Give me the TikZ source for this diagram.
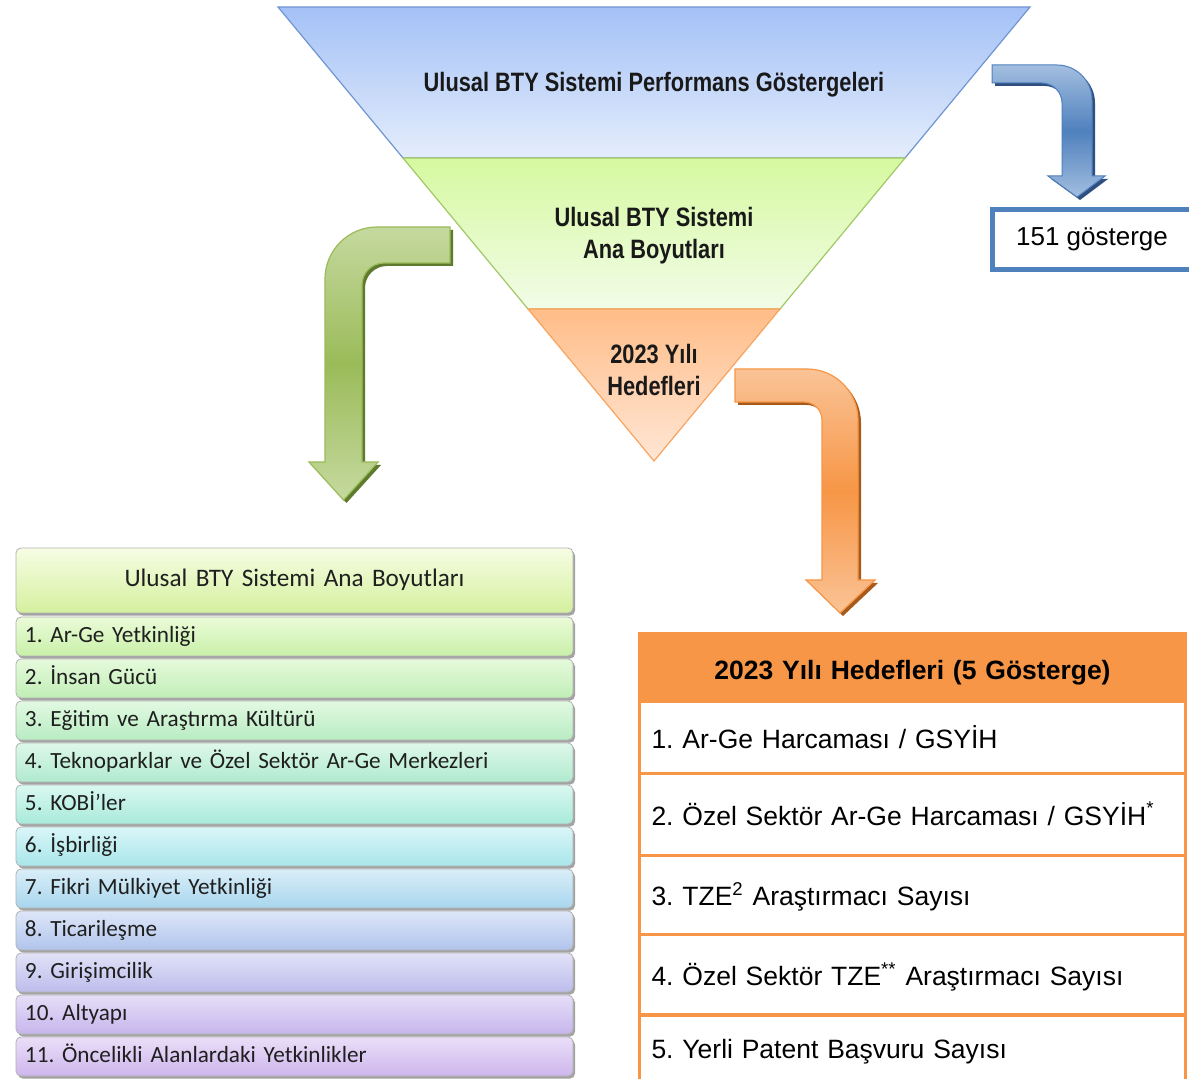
\documentclass[tikz,border=0pt]{standalone}
\usepackage{fontspec}
\setmainfont{Liberation Sans}
\newfontfamily\narrowfont[FakeStretch=0.82]{Liberation Sans}
\newfontfamily\rowfont[WordSpace=0.85]{Carlito}
\usetikzlibrary{shadows}
\definecolor{funBT}{HTML}{A4C1F6}
\definecolor{funBB}{HTML}{E4EDFC}
\definecolor{funBE}{HTML}{6F95D2}
\definecolor{funGT}{HTML}{D6F9A0}
\definecolor{funGB}{HTML}{F2FCE8}
\definecolor{funGE}{HTML}{A2C866}
\definecolor{funOT}{HTML}{FFBD88}
\definecolor{funOB}{HTML}{FFE6D5}
\definecolor{funOE}{HTML}{F8A35E}
\definecolor{arBL}{HTML}{A3BEE0}
\definecolor{arBD}{HTML}{4F81BD}
\definecolor{arBS}{HTML}{2E4F80}
\definecolor{arGL}{HTML}{C5D99F}
\definecolor{arGD}{HTML}{9BBB59}
\definecolor{arGS}{HTML}{5E7A2E}
\definecolor{arOL}{HTML}{FAC396}
\definecolor{arOD}{HTML}{F79646}
\definecolor{arOS}{HTML}{A65A1C}
\definecolor{boxBlue}{HTML}{4F81BD}
\definecolor{tabOr}{HTML}{F79646}
\definecolor{hdT}{HTML}{F7FDE4}
\definecolor{hdB}{HTML}{D4F09E}
\definecolor{rt1}{HTML}{EBFBD9}\definecolor{rb1}{HTML}{C8F0A8}
\definecolor{rt2}{HTML}{E6FADC}\definecolor{rb2}{HTML}{C0EEB6}
\definecolor{rt3}{HTML}{E2F9E2}\definecolor{rb3}{HTML}{B8ECC2}
\definecolor{rt4}{HTML}{DEF8EA}\definecolor{rb4}{HTML}{B0EACE}
\definecolor{rt5}{HTML}{DAF8F0}\definecolor{rb5}{HTML}{A8EADA}
\definecolor{rt6}{HTML}{DAF6F8}\definecolor{rb6}{HTML}{A8E6EA}
\definecolor{rt7}{HTML}{DAEEF8}\definecolor{rb7}{HTML}{A8D6EE}
\definecolor{rt8}{HTML}{DEE6F8}\definecolor{rb8}{HTML}{B0C4EC}
\definecolor{rt9}{HTML}{E2E2F8}\definecolor{rb9}{HTML}{BCBCEC}
\definecolor{rt10}{HTML}{E6DEF8}\definecolor{rb10}{HTML}{C6B6EC}
\definecolor{rt11}{HTML}{EADEF8}\definecolor{rb11}{HTML}{CEB6EC}
\begin{document}
\frenchspacing
\begin{tikzpicture}[x=0.5pt,y=-0.5pt,
  funtext/.style={font=\frenchspacing\narrowfont\bfseries\fontsize{13.3}{16}\selectfont, align=center, text=black!90, inner sep=0pt},
  lrow/.style={rectangle, rounded corners=2.5pt, draw=black!30, line width=0.4pt,
    minimum width=278.5pt, minimum height=19.5pt, text width=269.5pt, inner xsep=4.5pt, inner ysep=0pt,
    align=left, text height=8pt, text depth=2.4pt, font=\frenchspacing\rowfont\fontsize{11.6}{13}\selectfont, text=black!88,
    drop shadow={shadow xshift=1pt, shadow yshift=-1.3pt, fill=black!45, opacity=0.8}},
  lhead/.style={lrow, minimum height=32.5pt, align=center, text height=8.8pt, text depth=2.3pt,
    font=\frenchspacing\rowfont\fontsize{12.6}{14}\selectfont},
  rrow/.style={rectangle, draw=tabOr, line width=1.5pt, minimum width=273pt, text width=261pt,
    inner xsep=6pt, inner ysep=0pt, align=left, text height=12pt, text depth=1pt,
    font=\frenchspacing\fontsize{13.25}{15}\selectfont, text=black},
  rhead/.style={rrow, fill=tabOr, align=center, text height=12.5pt, text depth=1pt, font=\frenchspacing\bfseries\fontsize{13.25}{15}\selectfont}
]
\useasboundingbox[fill=white] (0,0) rectangle (1189,1079);

% funnel
\path[draw=funBE, line width=0.6pt, top color=funBT, bottom color=funBB] (278,7) -- (1030,7) -- (905,158) -- (403,158) -- cycle;
\path[draw=funGE, line width=0.6pt, top color=funGT, bottom color=funGB] (403,158) -- (905,158) -- (780,309) -- (528,309) -- cycle;
\path[draw=funOE, line width=0.6pt, top color=funOT, bottom color=funOB] (528,309) -- (780,309) -- (654,461) -- cycle;
\node[funtext] (f1) at (654,85) {Ulusal BTY Sistemi Performans Göstergeleri};
\node[funtext] (f2) at (654,236) {Ulusal BTY Sistemi\\Ana Boyutları};
\node[funtext] (f3) at (654,370) {2023 Yılı\\Hedefleri};

% blue bent arrow
\fill[arBS, xshift=1.5pt, yshift=-1.5pt] (992,65) -- (1057,65) .. controls (1076.3,65) and (1092,80.7) .. (1092,100) -- (1092,176) -- (1105,176) -- (1077,197) -- (1048,176) -- (1062,176) -- (1062,103) .. controls (1062,92) and (1053,83) .. (1042,83) -- (992,83) -- cycle;
\path[draw=arBD, line width=0.5pt, top color=arBL, bottom color=arBL, middle color=arBD] (992,65) -- (1057,65) .. controls (1076.3,65) and (1092,80.7) .. (1092,100) -- (1092,176) -- (1105,176) -- (1077,197) -- (1048,176) -- (1062,176) -- (1062,103) .. controls (1062,92) and (1053,83) .. (1042,83) -- (992,83) -- cycle;

% green bent arrow
\fill[arGS, xshift=1.5pt, yshift=-1.5pt] (450,227) -- (377,227) .. controls (348.3,227) and (325,250.3) .. (325,279) -- (325,462) -- (309,462) -- (343.5,500) -- (378,462) -- (362,462) -- (362,285) .. controls (362,272.8) and (371.8,263) .. (384,263) -- (450,263) -- cycle;
\path[draw=arGD, line width=0.6pt, top color=arGL, bottom color=arGL, middle color=arGD] (450,227) -- (377,227) .. controls (348.3,227) and (325,250.3) .. (325,279) -- (325,462) -- (309,462) -- (343.5,500) -- (378,462) -- (362,462) -- (362,285) .. controls (362,272.8) and (371.8,263) .. (384,263) -- (450,263) -- cycle;

% orange bent arrow
\fill[arOS, xshift=1.5pt, yshift=-1.5pt] (735,369) -- (807,369) .. controls (835.2,369) and (858,391.8) .. (858,420) -- (858,580) -- (875,580) -- (840,613) -- (806,580) -- (822,580) -- (822,420) .. controls (822,410.1) and (813.9,402) .. (804,402) -- (735,402) -- cycle;
\path[draw=arOD, line width=0.6pt, top color=arOL, bottom color=arOL, middle color=arOD] (735,369) -- (807,369) .. controls (835.2,369) and (858,391.8) .. (858,420) -- (858,580) -- (875,580) -- (840,613) -- (806,580) -- (822,580) -- (822,420) .. controls (822,410.1) and (813.9,402) .. (804,402) -- (735,402) -- cycle;

% 151 box
\node[rectangle, draw=boxBlue, line width=2.5pt, minimum width=103.75pt, minimum height=30pt, inner sep=0pt] (gbox) at (1096.25,239.5) {};
\node[font=\fontsize{13}{15}\selectfont, inner sep=0pt] (g151) at (1092,239) {151 gösterge};

% left table
\node[lhead, top color=hdT, bottom color=hdB] (lhead) at (294.5,580.5) {Ulusal BTY Sistemi Ana Boyutları};
\foreach \i/\t in {1/{1. Ar-Ge Yetkinliği}, 2/{2. İnsan Gücü}, 3/{3. Eğitim ve Araştırma Kültürü},
  4/{4. Teknoparklar ve Özel Sektör Ar-Ge Merkezleri}, 5/{5. KOBİ’ler}, 6/{6. İşbirliği},
  7/{7. Fikri Mülkiyet Yetkinliği}, 8/{8. Ticarileşme}, 9/{9. Girişimcilik}, 10/{10. Altyapı},
  11/{11. Öncelikli Alanlardaki Yetkinlikler}}{
  \node[lrow, top color=rt\i, bottom color=rb\i] (lrow\i) at (294.5,{636.5+42*(\i-1)}) {\t};
}

% right table
\node[rhead, minimum height=34pt] (rhead) at (912.5,668) {2023 Yılı Hedefleri (5 Gösterge)};
\node[rrow, minimum height=35.5pt] (rr1) at (912.5,737.5) {1. Ar-Ge Harcaması / GSYİH};
\node[rrow, minimum height=41pt] (rr2) at (912.5,814) {2. Özel Sektör Ar-Ge Harcaması / GSYİH\textsuperscript{*}};
\node[rrow, minimum height=39.5pt] (rr3) at (912.5,894.5) {3. TZE\textsuperscript{2} Araştırmacı Sayısı};
\node[rrow, minimum height=40.5pt] (rr4) at (912.5,974.5) {4. Özel Sektör TZE\textsuperscript{**} Araştırmacı Sayısı};
\node[rrow, minimum height=35pt, text height=11pt, text depth=2pt] (rr5) at (912.5,1049) {5. Yerli Patent Başvuru Sayısı};
\end{tikzpicture}
\end{document}
